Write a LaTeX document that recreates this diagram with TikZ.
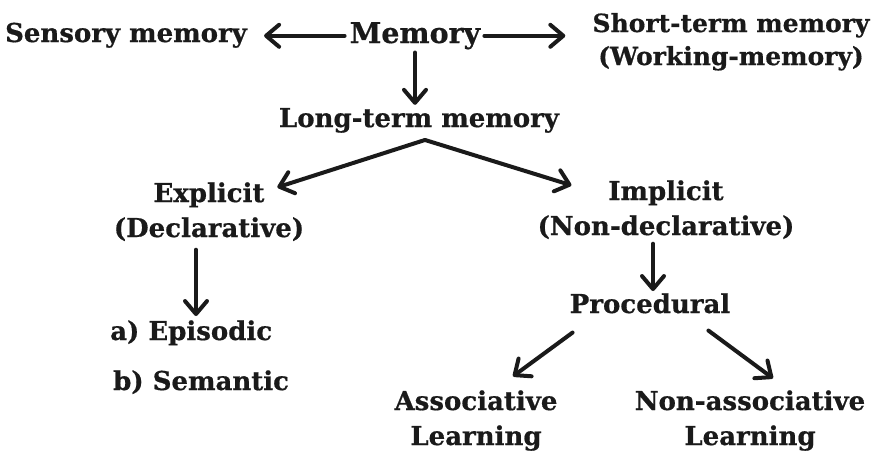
\documentclass[tikz,border=0pt]{standalone}
\usepackage{fontspec}
\setmainfont{DejaVu Serif}[BoldFeatures={FakeBold=0.6}]
\usetikzlibrary{arrows.meta,calc}
\definecolor{ink}{RGB}{26,26,26}
\tikzset{
  lbl/.style={inner sep=0pt, anchor=base, text=ink, font=\bfseries\fontsize{26}{35}\selectfont},
  big/.style={lbl, font=\bfseries\fontsize{28.5}{35}\selectfont},
  small/.style={lbl, font=\bfseries\fontsize{25}{33}\selectfont},
  arr/.style={draw=ink, line width=4pt, line cap=round,
    -{Straight Barb[length=13pt,width=22pt,round]}}
}
\newcommand{\twolines}[2]{\begin{tabular}[t]{@{}c@{}}#1\\#2\end{tabular}}
\begin{document}
\begin{tikzpicture}[x=1pt,y=-1pt]
\useasboundingbox (0,0) rectangle (873,450);
\node[lbl] (sens) at (126,42) {Sensory memory};
\node[big] (mem) at (415,43) {Memory};
\node[small] (stm) at (731,32) {\twolines{Short-term memory}{(Working-memory)}};
\node[lbl] (ltm) at (419,127) {Long-term memory};
\node[lbl] (expl) at (209,202) {\twolines{Explicit}{(Declarative)}};
\node[lbl] (impl) at (666,200) {\twolines{Implicit}{(Non-declarative)}};
\node[lbl, anchor=base west] (epi) at (110,340) {a) Episodic};
\node[lbl, anchor=base west] (sem) at (113,390) {b) Semantic};
\node[lbl] (proc) at (650,313) {Procedural};
\node[lbl] (assoc) at (476,410) {\twolines{Associative}{Learning}};
\node[lbl] (nassoc) at (750,410) {\twolines{Non-associative}{Learning}};

\draw[arr] ([xshift=-5pt]mem.west) -- ([xshift=17pt]sens.east |- mem.west);
\draw[arr] ([xshift=4pt]mem.east) -- ([xshift=-27pt]stm.west |- mem.east);
\draw[arr] (mem.south) ++(0,3) -- ($(ltm.north -| mem.south)+(0,-3)$);
\coordinate (apex) at ([shift={(6,7)}]ltm.south);
\draw[arr] (apex) -- ([shift={(-27,10)}]expl.north east);
\draw[arr] (apex) -- ([shift={(34,10)}]impl.north west);
\draw[arr] ([shift={(-13,2)}]expl.south) -- ($(epi.north -| expl.south)+(-13,-4)$);
\draw[arr] ([shift={(3,-2)}]impl.south -| proc.north) -- ($(proc.north)+(3,-2)$);
\draw[arr] ([shift={(3,19)}]proc.south west) -- ([shift={(37,-9)}]assoc.north);
\draw[arr] ([shift={(-22,17)}]proc.south east) -- ([shift={(23,-7)}]nassoc.north);
\end{tikzpicture}
\end{document}
